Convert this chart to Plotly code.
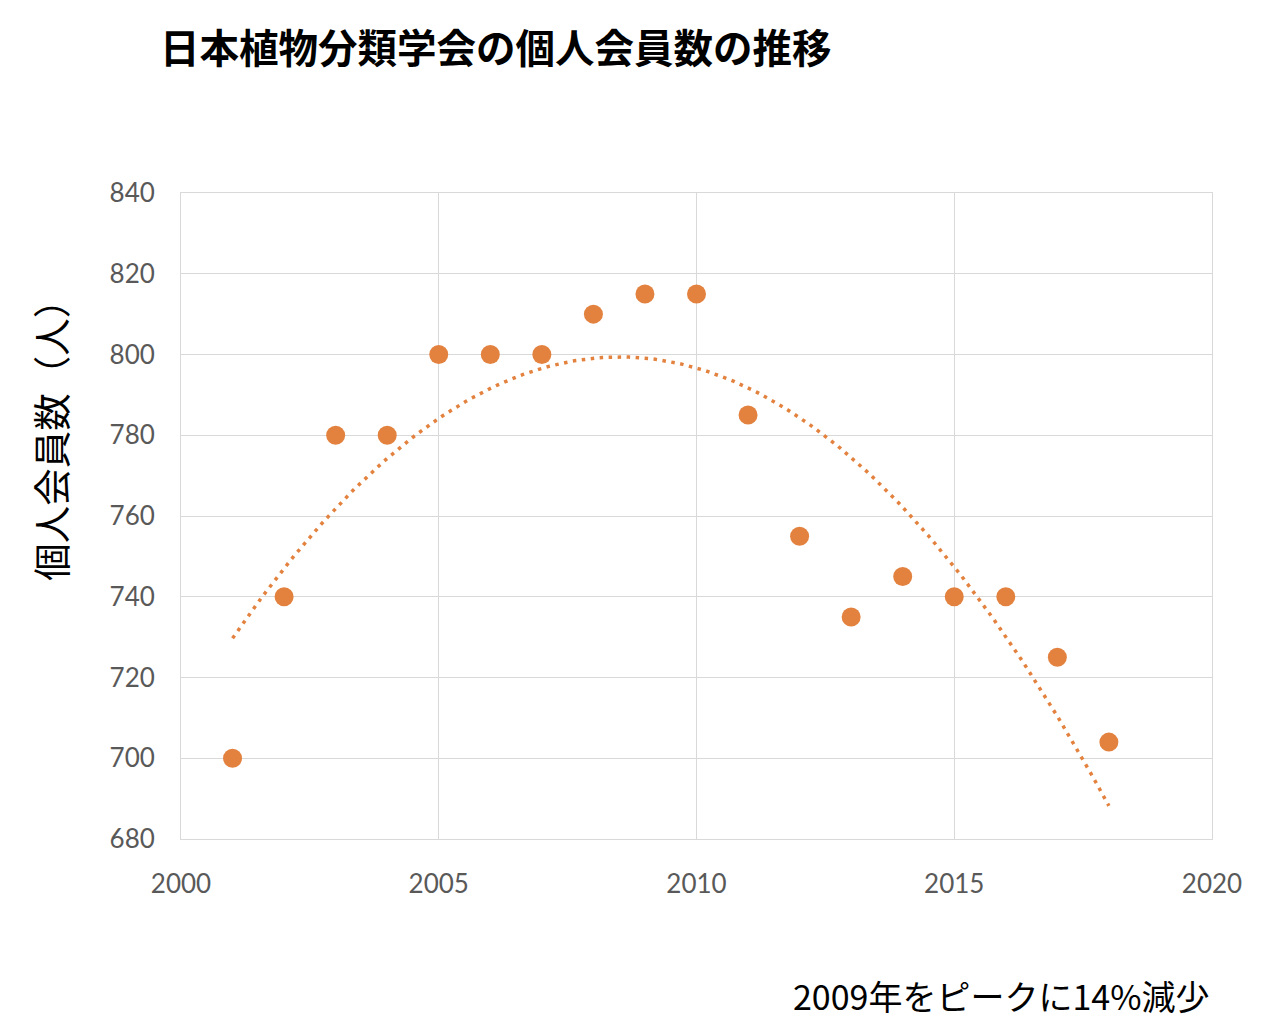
import plotly.graph_objects as go
import numpy as np

years = [2001, 2002, 2003, 2004, 2005, 2006, 2007, 2008, 2009,
         2010, 2011, 2012, 2013, 2014, 2015, 2016, 2017, 2018]
members = [700, 740, 780, 780, 800, 800, 800, 810, 815,
           815, 785, 755, 735, 745, 740, 740, 725, 704]

title_text = "日本植物分類学会の個人会員数の推移"
ytitle_text = "個人会員数（人）"
note_text = "2009年をピークに14%減少"

orange = "#E3823F"

# quadratic trendline, like Excel's polynomial trend
coef = np.polyfit(years, members, 2)
tx = np.linspace(min(years), max(years), 200)
ty = np.polyval(coef, tx)

fig = go.Figure()
fig.add_trace(go.Scatter(
    x=tx, y=ty, mode="lines",
    line=dict(color=orange, width=3.5, dash="3.5px,5.5px"),
    hoverinfo="skip", showlegend=False
))
fig.add_trace(go.Scatter(
    x=years, y=members, mode="markers",
    marker=dict(color=orange, size=19),
    showlegend=False
))

grid = "#d9d9d9"
axis_font = dict(family="Lato, Liberation Sans, sans-serif", size=26, color="#595959")
fig.update_xaxes(
    range=[2000, 2020], dtick=5, showgrid=True, gridcolor=grid, gridwidth=1,
    zeroline=False, showline=True, mirror=True, linecolor=grid, linewidth=1,
    tickfont=axis_font, ticks="outside", ticklen=22, tickcolor="rgba(0,0,0,0)"
)
fig.update_yaxes(
    range=[680, 840], dtick=20, showgrid=True, gridcolor=grid, gridwidth=1,
    zeroline=False, showline=True, mirror=True, linecolor=grid, linewidth=1,
    tickfont=axis_font, ticks="outside", ticklen=20, tickcolor="rgba(0,0,0,0)"
)

cjk = "Noto Sans CJK JP, sans-serif"
fig.update_layout(
    width=1280, height=1034,
    margin=dict(l=173, r=76, t=185, b=203),
    plot_bgcolor="white", paper_bgcolor="white",
    annotations=[
        dict(text=title_text, xref="paper", yref="paper", x=-0.022, y=1.228,
             xanchor="left", yanchor="middle", showarrow=False,
             font=dict(family=cjk, size=39.5, color="black", weight="bold")),
        dict(text=ytitle_text, xref="paper", yref="paper", x=-0.127, y=0.632,
             xanchor="center", yanchor="middle", textangle=-90, showarrow=False,
             font=dict(family=cjk, size=37.5, color="black")),
        dict(text=note_text, xref="paper", yref="paper", x=1.0, y=-0.242,
             xanchor="right", yanchor="middle", showarrow=False,
             font=dict(family=cjk, size=34, color="black")),
    ]
)

fig.write_html("out.html")
